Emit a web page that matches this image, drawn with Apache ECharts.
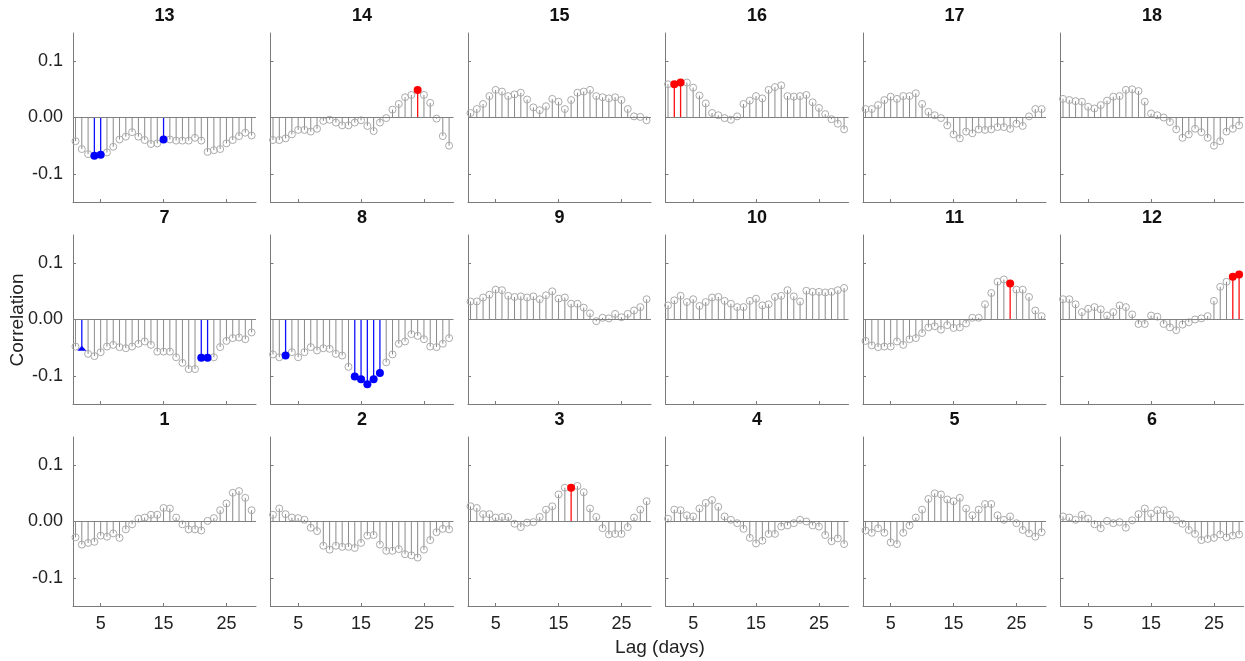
<!DOCTYPE html>
<html>
<head>
<meta charset="utf-8">
<script src="https://cdn.jsdelivr.net/npm/echarts@6/dist/echarts.min.js"></script>
<style>
  html, body { margin: 0; padding: 0; background: #fff; }
  #main { width: 1245px; height: 661px; }
</style>
</head>
<body>
<div id="main"></div>
<script>
// lag in days
var lags = [1, 2, 3, 4, 5, 6, 7, 8, 9, 10, 11, 12, 13, 14, 15, 16, 17, 18, 19, 20, 21, 22, 23, 24, 25, 26, 27, 28, 29];

// correlation per panel
var corr1  = [-0.028, -0.041, -0.038, -0.036, -0.025, -0.027, -0.021, -0.029, -0.014, -0.005, 0.005, 0.007, 0.012, 0.012, 0.024, 0.023, 0.007, -0.005, -0.014, -0.014, -0.016, 0.001, 0.006, 0.020, 0.032, 0.051, 0.054, 0.042, 0.020];
var corr2  = [0.012, 0.023, 0.013, 0.007, 0.006, 0.003, -0.011, -0.017, -0.043, -0.050, -0.043, -0.045, -0.045, -0.047, -0.038, -0.025, -0.024, -0.041, -0.052, -0.052, -0.049, -0.058, -0.060, -0.064, -0.050, -0.033, -0.019, -0.013, -0.014];
var corr3  = [0.027, 0.024, 0.013, 0.013, 0.007, 0.008, 0.008, -0.004, -0.010, -0.002, -0.001, 0.008, 0.021, 0.027, 0.048, 0.060, 0.060, 0.063, 0.052, 0.023, 0.008, -0.012, -0.023, -0.022, -0.022, -0.010, 0.007, 0.021, 0.036];
var corr4  = [0.005, 0.021, 0.020, 0.011, 0.009, 0.023, 0.033, 0.038, 0.026, 0.009, 0.003, -0.003, -0.013, -0.029, -0.039, -0.034, -0.022, -0.022, -0.009, -0.007, -0.003, 0.003, 0.000, -0.007, -0.009, -0.024, -0.035, -0.030, -0.040];
var corr5  = [-0.016, -0.020, -0.012, -0.020, -0.037, -0.040, -0.020, -0.007, 0.007, 0.021, 0.040, 0.050, 0.048, 0.039, 0.036, 0.042, 0.023, 0.011, 0.021, 0.031, 0.031, 0.011, 0.003, 0.009, -0.003, -0.015, -0.021, -0.027, -0.019];
var corr6  = [0.009, 0.007, 0.003, 0.012, 0.005, -0.005, -0.012, 0.001, -0.003, -0.001, -0.011, 0.002, 0.013, 0.023, 0.014, 0.020, 0.020, 0.012, 0.002, -0.004, -0.015, -0.022, -0.033, -0.031, -0.029, -0.023, -0.028, -0.025, -0.023];
var corr7  = [-0.048, -0.051, -0.061, -0.065, -0.058, -0.048, -0.045, -0.049, -0.051, -0.048, -0.043, -0.039, -0.045, -0.057, -0.057, -0.057, -0.067, -0.077, -0.088, -0.088, -0.068, -0.068, -0.067, -0.049, -0.038, -0.033, -0.032, -0.035, -0.023];
var corr8  = [-0.062, -0.067, -0.064, -0.058, -0.067, -0.058, -0.049, -0.055, -0.051, -0.052, -0.061, -0.064, -0.084, -0.101, -0.106, -0.115, -0.106, -0.095, -0.076, -0.062, -0.043, -0.039, -0.026, -0.029, -0.035, -0.048, -0.049, -0.043, -0.033];
var corr9  = [0.032, 0.032, 0.039, 0.044, 0.053, 0.052, 0.042, 0.040, 0.041, 0.039, 0.041, 0.036, 0.043, 0.050, 0.037, 0.039, 0.028, 0.028, 0.021, 0.011, -0.003, 0.003, 0.002, 0.010, 0.004, 0.010, 0.016, 0.022, 0.036];
var corr10 = [0.025, 0.034, 0.042, 0.031, 0.036, 0.024, 0.031, 0.039, 0.040, 0.033, 0.028, 0.022, 0.022, 0.033, 0.037, 0.025, 0.027, 0.040, 0.042, 0.052, 0.041, 0.032, 0.051, 0.049, 0.049, 0.048, 0.049, 0.052, 0.056];
var corr11 = [-0.038, -0.046, -0.049, -0.048, -0.048, -0.039, -0.045, -0.035, -0.033, -0.024, -0.014, -0.012, -0.018, -0.010, -0.015, -0.014, -0.007, 0.003, 0.003, 0.027, 0.047, 0.067, 0.071, 0.064, 0.053, 0.053, 0.040, 0.016, 0.006];
var corr12 = [0.036, 0.036, 0.027, 0.013, 0.019, 0.022, 0.018, 0.007, 0.013, 0.025, 0.022, 0.009, -0.008, -0.008, 0.007, 0.005, -0.008, -0.014, -0.019, -0.009, -0.005, 0.000, 0.002, 0.006, 0.033, 0.058, 0.067, 0.076, 0.080];
var corr13 = [-0.042, -0.056, -0.065, -0.068, -0.066, -0.062, -0.052, -0.039, -0.034, -0.026, -0.034, -0.040, -0.047, -0.046, -0.039, -0.039, -0.041, -0.041, -0.041, -0.036, -0.041, -0.061, -0.058, -0.056, -0.046, -0.040, -0.033, -0.027, -0.032];
var corr14 = [-0.040, -0.040, -0.037, -0.030, -0.022, -0.022, -0.025, -0.020, -0.006, -0.004, -0.009, -0.014, -0.014, -0.009, -0.005, -0.015, -0.024, -0.009, -0.001, 0.014, 0.024, 0.036, 0.040, 0.049, 0.040, 0.026, -0.002, -0.033, -0.050];
var corr15 = [0.008, 0.015, 0.024, 0.038, 0.049, 0.046, 0.038, 0.041, 0.044, 0.032, 0.018, 0.013, 0.020, 0.033, 0.028, 0.015, 0.031, 0.044, 0.046, 0.049, 0.038, 0.036, 0.034, 0.036, 0.031, 0.015, 0.002, 0.001, -0.005];
var corr16 = [0.059, 0.059, 0.062, 0.062, 0.053, 0.039, 0.025, 0.008, 0.004, -0.001, -0.004, 0.002, 0.024, 0.030, 0.038, 0.034, 0.049, 0.054, 0.057, 0.038, 0.037, 0.038, 0.040, 0.027, 0.017, 0.006, -0.003, -0.011, -0.021];
var corr17 = [0.015, 0.015, 0.022, 0.031, 0.037, 0.033, 0.038, 0.038, 0.043, 0.024, 0.010, 0.004, -0.001, -0.014, -0.030, -0.037, -0.025, -0.028, -0.021, -0.022, -0.021, -0.017, -0.017, -0.020, -0.011, -0.015, 0.002, 0.015, 0.015];
var corr18 = [0.033, 0.031, 0.029, 0.028, 0.019, 0.016, 0.022, 0.030, 0.037, 0.038, 0.049, 0.050, 0.047, 0.028, 0.007, 0.004, 0.000, -0.008, -0.021, -0.036, -0.030, -0.020, -0.026, -0.036, -0.050, -0.042, -0.025, -0.020, -0.014];

// significant lags (filled markers)
var blue7 = [2, 21, 22];
var blue8 = [3, 14, 15, 16, 17, 18];
var blue13 = [4, 5, 15];
var red3 = [17];
var red11 = [24];
var red12 = [28, 29];
var red14 = [24];
var red16 = [2, 3];

var xTicks = [5, 15, 25];
var yTicks = [-0.1, 0, 0.1];

// panels in reading order: top row 13-18, middle 7-12, bottom 1-6
var panels = [
  { name: '13', values: corr13, blue: blue13, red: [] },
  { name: '14', values: corr14, blue: [], red: red14 },
  { name: '15', values: corr15, blue: [], red: [] },
  { name: '16', values: corr16, blue: [], red: red16 },
  { name: '17', values: corr17, blue: [], red: [] },
  { name: '18', values: corr18, blue: [], red: [] },
  { name: '7', values: corr7, blue: blue7, red: [] },
  { name: '8', values: corr8, blue: blue8, red: [] },
  { name: '9', values: corr9, blue: [], red: [] },
  { name: '10', values: corr10, blue: [], red: [] },
  { name: '11', values: corr11, blue: [], red: red11 },
  { name: '12', values: corr12, blue: [], red: red12 },
  { name: '1', values: corr1, blue: [], red: [] },
  { name: '2', values: corr2, blue: [], red: [] },
  { name: '3', values: corr3, blue: [], red: red3 },
  { name: '4', values: corr4, blue: [], red: [] },
  { name: '5', values: corr5, blue: [], red: [] },
  { name: '6', values: corr6, blue: [], red: [] }
];

var FONT = '"Liberation Sans", Arial, Helvetica, sans-serif';
var AXIS_GREY = '#7a7a7a';

var chart = echarts.init(document.getElementById('main'), null, { renderer: 'canvas' });

var grids = [], xAxes = [], yAxes = [], series = [], graphics = [];

function stemRender(color, width) {
  return function (params, api) {
    var x = api.value(0), y = api.value(1);
    var p0 = api.coord([x, 0]);
    var p1 = api.coord([x, y]);
    return {
      type: 'line',
      shape: { x1: p0[0], y1: p0[1], x2: p1[0], y2: p1[1] },
      style: { stroke: color, lineWidth: width }
    };
  };
}

panels.forEach(function (p, i) {
  var row = Math.floor(i / 6), col = i % 6;
  var left = 73 + col * 197.5;
  var top = 33 + row * 202;
  var w = 183, h = 169;

  grids.push({ left: left, top: top, width: w, height: h, containLabel: false });

  xAxes.push({
    gridIndex: i, type: 'value', min: 0.6, max: 29.7,
    axisLine: { show: true, onZero: false, lineStyle: { color: AXIS_GREY, width: 1 } },
    axisTick: { show: true, inside: true, length: 3, customValues: xTicks, lineStyle: { color: AXIS_GREY } },
    axisLabel: { show: row === 2, customValues: xTicks, color: '#222', fontSize: 18, fontFamily: FONT, margin: 9 },
    splitLine: { show: false }
  });

  yAxes.push({
    gridIndex: i, type: 'value', min: -0.15, max: 0.15,
    axisLine: { show: true, lineStyle: { color: AXIS_GREY, width: 1 } },
    axisTick: { show: true, inside: true, length: 3, customValues: yTicks, lineStyle: { color: AXIS_GREY } },
    axisLabel: {
      show: col === 0, customValues: yTicks, color: '#222', fontSize: 18, fontFamily: FONT, margin: 10,
      formatter: function (v) { return Math.abs(v) < 1e-9 ? '0.00' : v.toFixed(1); }
    },
    splitLine: { show: false }
  });

  var plain = [], blue = [], red = [];
  lags.forEach(function (lag, k) {
    var pt = [lag, p.values[k]];
    if (p.blue.indexOf(lag) >= 0) blue.push(pt);
    else if (p.red.indexOf(lag) >= 0) red.push(pt);
    else plain.push(pt);
  });

  series.push({
    type: 'custom', xAxisIndex: i, yAxisIndex: i, silent: true,
    renderItem: stemRender('#8a8a8a', 1), data: plain, z: 2
  });
  series.push({
    type: 'scatter', xAxisIndex: i, yAxisIndex: i, silent: true,
    symbol: 'circle', symbolSize: 7, data: plain, z: 3,
    itemStyle: { color: 'rgba(255,255,255,0)', borderColor: '#ababab', borderWidth: 1, opacity: 1 },
    markLine: {
      silent: true, symbol: ['none', 'none'], label: { show: false },
      lineStyle: { color: '#808080', width: 1, type: 'solid' },
      data: [{ yAxis: 0 }]
    }
  });

  if (blue.length) {
    series.push({
      type: 'custom', xAxisIndex: i, yAxisIndex: i, silent: true,
      renderItem: stemRender('#1010ff', 1.3), data: blue, z: 4
    });
    series.push({
      type: 'scatter', xAxisIndex: i, yAxisIndex: i, silent: true,
      data: blue, z: 5,
      symbol: function (v) { return (p.name === '7' && v[0] === 2) ? 'triangle' : 'circle'; },
      symbolSize: function (v) { return (p.name === '7' && v[0] === 2) ? [9, 5] : 8; },
      itemStyle: { color: '#0000ff', opacity: 1 }
    });
  }
  if (red.length) {
    series.push({
      type: 'custom', xAxisIndex: i, yAxisIndex: i, silent: true,
      renderItem: stemRender('#ff1010', 1.3), data: red, z: 4
    });
    series.push({
      type: 'scatter', xAxisIndex: i, yAxisIndex: i, silent: true,
      symbol: 'circle', symbolSize: 8, data: red, z: 5,
      itemStyle: { color: '#ff0000', opacity: 1 }
    });
  }

  graphics.push({
    type: 'text', x: left + w / 2, y: top - 17,
    style: { text: p.name, fill: '#111', font: 'bold 18px ' + FONT, textAlign: 'center', textVerticalAlign: 'middle' }
  });
});

graphics.push({
  type: 'text', x: 18, y: 320, rotation: Math.PI / 2,
  style: { text: 'Correlation', fill: '#222', font: '19px ' + FONT, textAlign: 'center', textVerticalAlign: 'middle' }
});
graphics.push({
  type: 'text', x: 660, y: 648,
  style: { text: 'Lag (days)', fill: '#222', font: '19px ' + FONT, textAlign: 'center', textVerticalAlign: 'middle' }
});

chart.setOption({
  animation: false,
  backgroundColor: '#fff',
  grid: grids,
  xAxis: xAxes,
  yAxis: yAxes,
  series: series,
  graphic: graphics
});
</script>
</body>
</html>
